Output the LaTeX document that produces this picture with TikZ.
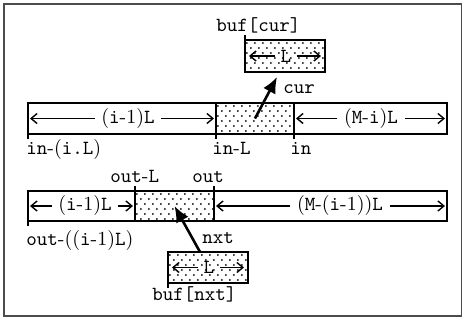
\documentclass[tikz,border=0pt]{standalone}
\usetikzlibrary{arrows.meta,calc}

\tikzset{
  seg/.style={draw, line width=0.8pt, rectangle, inner sep=0pt, outer sep=0pt},
  stippled/.style={path picture={
      \foreach \j in {0,...,7}{
        \foreach \i in {0,...,11}{
          \fill ([shift={({2+8*\i+4*mod(\j,2)},{3+5*\j})}]path picture bounding box.north west) circle (0.5pt);
        }
      }}},
  dimone/.style={line width=0.7pt, -{Straight Barb[length=3pt,width=5pt]}, shorten >=1pt},
  dimtwo/.style={line width=0.7pt, -{Straight Barb[length=3pt,width=5pt]}, shorten >=2pt},
  midtext/.style={inner sep=3.2pt, fill=none},
  lbl/.style={anchor=base west, inner sep=0pt},
  tick/.style={line width=0.6pt},
  pointer/.style={line width=1.3pt, -{Latex[length=8pt,width=7pt]}},
  frame/.style={line width=0.9pt, draw=black!70}
}

\begin{document}
\begin{tikzpicture}[x=0.5pt, y=-0.5pt]
  \useasboundingbox (0,0) rectangle (463,322);
  \draw[frame] (4,4) rectangle (461.5,316);

  % input stream: (i-1)L | L | (M-i)L
  \node[seg, minimum width=94pt, minimum height=15.5pt] (a1) at (122,118.5) {};
  \node[seg, stippled, minimum width=39pt, minimum height=15.5pt] (a2) at (255,118.5) {};
  \node[seg, minimum width=76.5pt, minimum height=15.5pt] (a3) at (370.5,118.5) {};

  \node[midtext] (ta1) at (128,118.5) {(\texttt{i}-1)\texttt{L}};
  \draw[dimone] (ta1.west) -- (ta1.west -| a1.west);
  \draw[dimone] (ta1.east) -- (ta1.east -| a1.east);
  \node[midtext] (ta3) at (371,118.5) {(\texttt{M}-\texttt{i})\texttt{L}};
  \draw[dimone] (ta3.west) -- (ta3.west -| a3.west);
  \draw[dimone] (ta3.east) -- (ta3.east -| a3.east);

  \draw[tick] (a1.south west) -- ++(0,5);
  \draw[tick] (a2.south west) -- ++(0,5);
  \draw[tick] (a2.south east) -- ++(0,5);
  \node[lbl] (la1) at (26,154) {\texttt{in}-(\texttt{i.L})};
  \node[lbl] (la2) at (212,154) {\texttt{in}-\texttt{L}};
  \node[lbl] (la3) at (290,154) {\texttt{in}};

  % current buffer
  \node[seg, stippled, minimum width=40pt, minimum height=16pt] (bufa) at (285,56) {};
  \node[midtext, inner sep=2.5pt] (tba) at (286,56) {\texttt{L}};
  \draw[dimtwo] (tba.west) -- (tba.west -| bufa.west);
  \draw[dimtwo] (tba.east) -- (tba.east -| bufa.east);
  \draw[tick] (bufa.north west) -- ++(0,-5);
  \node[lbl] (lbufa) at (216,31) {\texttt{buf[cur]}};
  \node[lbl] (lcur) at (283,93) {\texttt{cur}};
  \coordinate (pa) at ($(bufa.south)+(-8,5)$);
  \draw[pointer] (a2.center) -- (pa);

  % output stream: (i-1)L | L | (M-(i-1))L
  \node[seg, minimum width=53.5pt, minimum height=15pt] (b1) at (81.5,206) {};
  \node[seg, stippled, minimum width=39.5pt, minimum height=15pt] (b2) at (174.5,206) {};
  \node[seg, minimum width=116.5pt, minimum height=15pt] (b3) at (330.5,206) {};

  \node[midtext] (tb1) at (85,206) {(\texttt{i}-1)\texttt{L}};
  \draw[dimone] (tb1.west) -- (tb1.west -| b1.west);
  \draw[dimone] (tb1.east) -- (tb1.east -| b1.east);
  \node[midtext] (tb3) at (340,206) {(\texttt{M}-(\texttt{i}-1))\texttt{L}};
  \draw[dimone] (tb3.west) -- (tb3.west -| b3.west);
  \draw[dimone] (tb3.east) -- (tb3.east -| b3.east);

  \draw[tick] (b1.south west) -- ++(0,5);
  \draw[tick] (b2.north west) -- ++(0,-5);
  \draw[tick] (b2.north east) -- ++(0,-5);
  \node[lbl] (lb2) at (110,182) {\texttt{out}-\texttt{L}};
  \node[lbl] (lb3) at (192,182) {\texttt{out}};
  \node[lbl] (lb1) at (26,245) {\texttt{out}-((\texttt{i}-1)\texttt{L})};

  % next buffer
  \node[seg, stippled, minimum width=40pt, minimum height=15.5pt] (bufb) at (208,267.5) {};
  \node[midtext, inner sep=2.5pt] (tbb) at (209,267.5) {\texttt{L}};
  \draw[dimtwo] (tbb.west) -- (tbb.west -| bufb.west);
  \draw[dimtwo] (tbb.east) -- (tbb.east -| bufb.east);
  \draw[tick] (bufb.south west) -- ++(0,5);
  \node[lbl] (lbufb) at (152,300) {\texttt{buf[nxt]}};
  \node[lbl] (lnxt) at (202,243) {\texttt{nxt}};
  \coordinate (pb) at ($(bufb.north)+(-8,0)$);
  \draw[pointer] (pb) -- (b2.center);
\end{tikzpicture}
\end{document}
